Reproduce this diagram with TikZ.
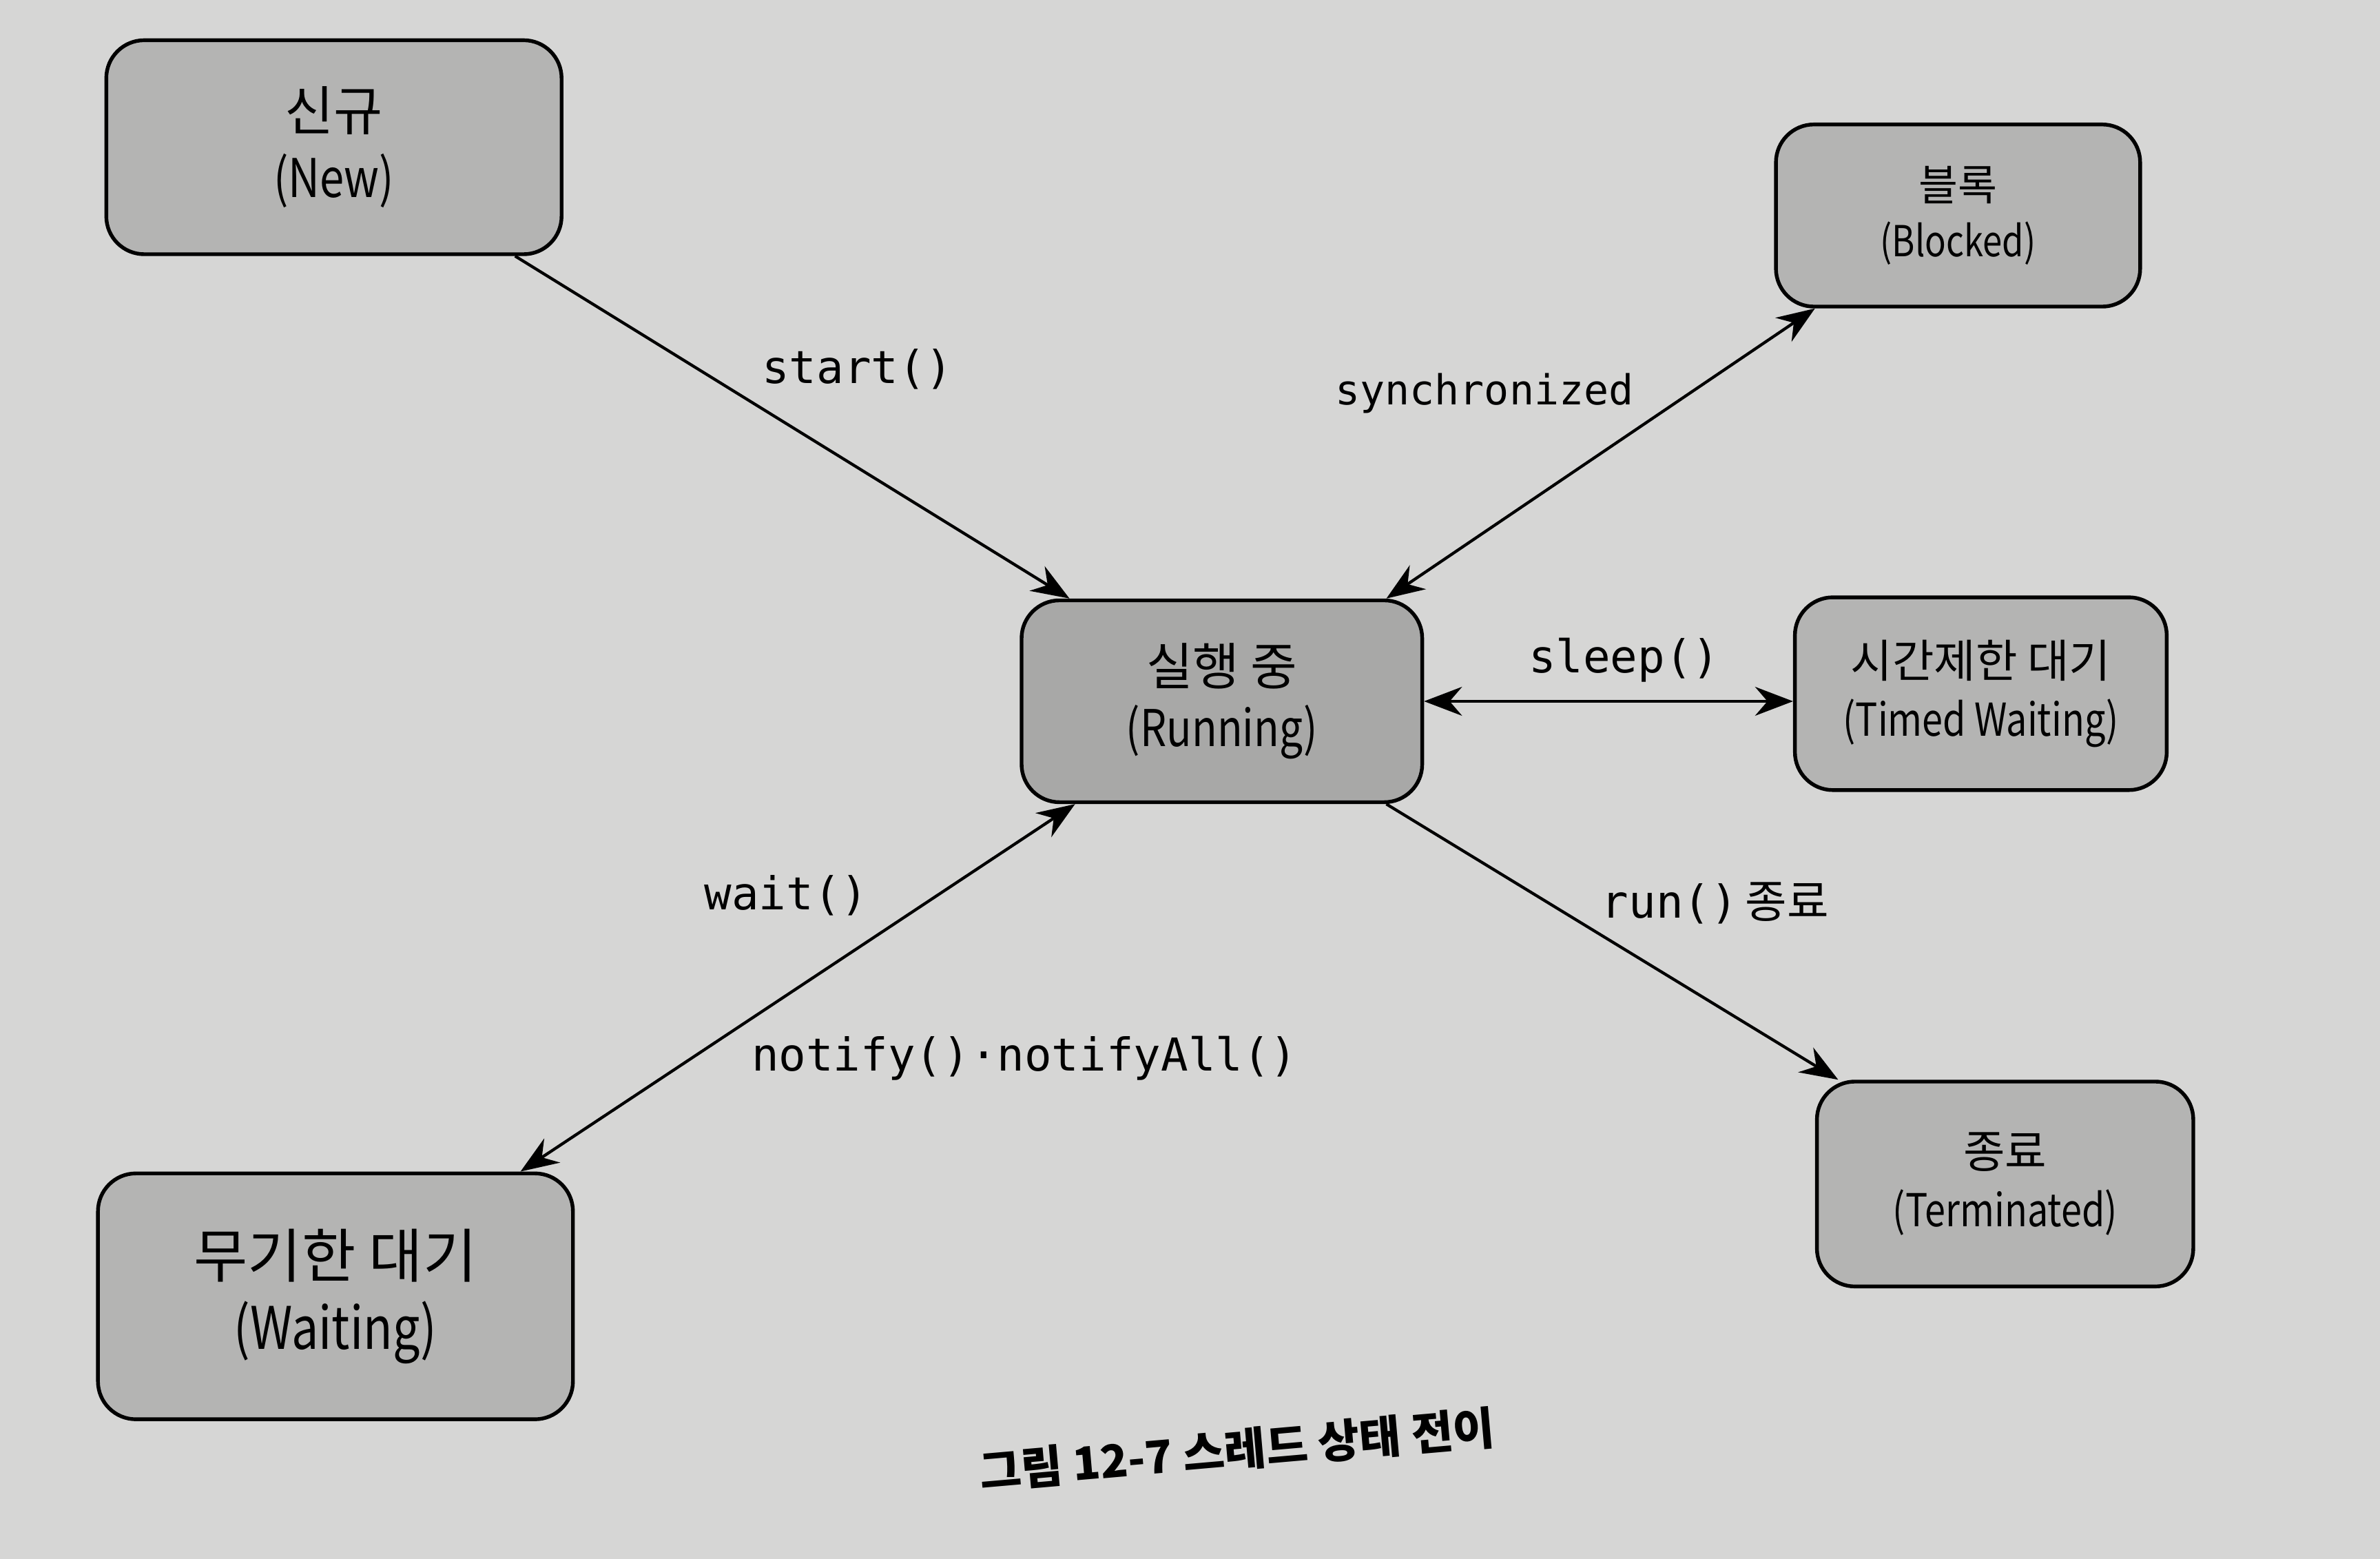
\documentclass[tikz,border=0pt]{standalone}
\usepackage{fontspec}
\setmainfont{Noto Sans CJK KR}
\setmonofont{DejaVu Sans Mono}
\newfontfamily\condfont{Noto Sans CJK KR}[FakeStretch=0.82]
\usetikzlibrary{
    arrows.meta,
    positioning,
    calc
}
\definecolor{paper}{RGB}{214,214,213}
\definecolor{boxgray}{RGB}{180,180,179}
\definecolor{rungray}{RGB}{168,168,167}

\begin{document}
\begin{tikzpicture}[x=0.02cm, y=0.02cm,
    stbox/.style={draw, line width=1.4pt, rounded corners=0.5cm, fill=boxgray, align=center, inner sep=0pt},
    trans/.style={line width=1.1pt, >={Stealth[length=0.5cm, width=0.38cm]}},
    lbl/.style={font=\ttfamily\fontsize{17}{20}\selectfont}]
    \fill[paper] (0, 0) rectangle (1568, 1027);
    \useasboundingbox (0, 0) rectangle (1568, 1027);

    % states
    \node[stbox, minimum width=6cm, minimum height=2.82cm, font=\fontsize{20}{25}\selectfont]
        (New) at (220, 930) {신규\\{\condfont (New)}};
    \node[stbox, minimum width=4.8cm, minimum height=2.4cm, font=\fontsize{16}{21}\selectfont]
        (Blocked) at (1290, 885) {블록\\{\condfont (Blocked)}};
    \node[stbox, fill=rungray, minimum width=5.28cm, minimum height=2.66cm, font=\fontsize{19}{23}\selectfont]
        (Run) at (805, 565) {실행 중\\{\condfont (Running)}};
    \node[stbox, minimum width=4.9cm, minimum height=2.54cm, font=\fontsize{17}{22}\selectfont]
        (Timed) at (1305, 570) {시간제한 대기\\{\condfont (Timed Waiting)}};
    \node[stbox, minimum width=4.96cm, minimum height=2.7cm, font=\fontsize{17}{22}\selectfont]
        (Term) at (1321, 247) {종료\\{\condfont (Terminated)}};
    \node[stbox, minimum width=6.26cm, minimum height=3.24cm, font=\fontsize{22}{27}\selectfont]
        (Wait) at (221, 173) {무기한 대기\\{\condfont (Waiting)}};

    % transitions
    \draw[trans, ->] (New.-31) -- (Run.146);
    \draw[trans, <->] (Run.32) -- (Blocked.213);
    \draw[trans, <->] (Run.east) -- (Run.east -| Timed.west);
    \draw[trans, ->] (Run.-32) -- (Term.148);
    \draw[trans, <->] (Run.215) -- (Wait.34);

    \node[lbl] (lStart) at (565, 784) {start()};
    \node[lbl, font=\ttfamily\fontsize{15.5}{18}\selectfont] (lSync) at (978, 768) {synchronized};
    \node[lbl] (lSleep) at (1070, 592) {sleep()};
    \node[lbl] (lRun) at (1130, 432) {run()\rmfamily\,종료};
    \node[lbl] (lWait) at (518, 437) {wait()};
    \node[lbl] (lNotify) at (675, 330) {notify()·notifyAll()};

    \node[rotate=5, font=\bfseries\fontsize{17}{20}\selectfont] (caption) at (815, 72) {그림 12-7 스레드 상태 전이};
\end{tikzpicture}
\end{document}
